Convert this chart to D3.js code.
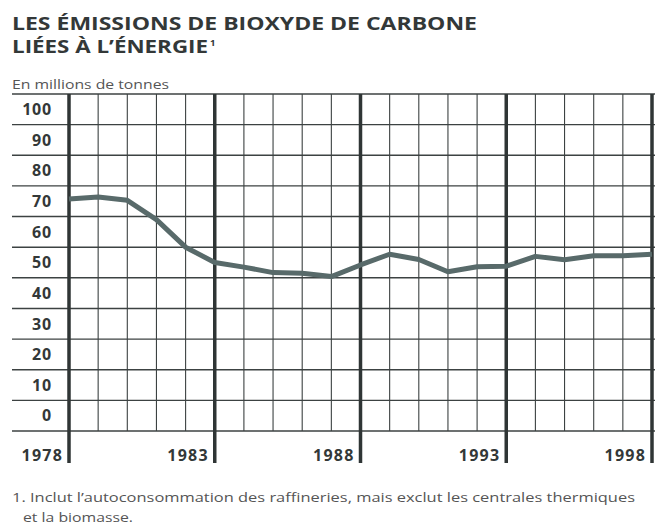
<!DOCTYPE html>
<html>
<head>
<meta charset="utf-8">
<script src="https://cdn.jsdelivr.net/npm/d3@7"></script>
<style>
  html, body { margin: 0; padding: 0; background: #fff; }
  svg { display: block; }
  text { font-family: "Open Sans", "Noto Sans", sans-serif; }
</style>
</head>
<body>
<svg id="chart" width="655" height="531"></svg>
<script>
// ---- Data ----
const years = [1978,1979,1980,1981,1982,1983,1984,1985,1986,1987,1988,1989,1990,1991,1992,1993,1994,1995,1996,1997,1998];
const emissions = [75.7,76.4,75.3,69,60,55,53.5,51.7,51.5,50.4,54.2,57.7,56,52,53.6,53.8,57,55.9,57.2,57.2,57.7];
const yTickValues = [0,10,20,30,40,50,60,70,80,90,100];
const xLabelYears = [1978,1983,1988,1993,1998];
const titleLines = ["LES ÉMISSIONS DE BIOXYDE DE CARBONE", "LIÉES À L’ÉNERGIE"];
const unitLabel = "En millions de tonnes";
const footnoteLines = ["1. Inclut l’autoconsommation des raffineries, mais exclut les centrales thermiques", "et la biomasse."];

// ---- Layout ----
const svg = d3.select("#chart");
const ink = "#333838";
const x = d3.scaleLinear().domain([1978, 1998]).range([69, 652]);
const y = d3.scaleLinear().domain([0, 110]).range([431, 94]);
const gridLeft = 12, gridRight = 655;

// Title
svg.append("text").attr("x", 12).attr("y", 30)
  .attr("font-size", 18.5).attr("font-weight", 700).attr("fill", ink)
  .attr("textLength", 465).attr("lengthAdjust", "spacingAndGlyphs")
  .text(titleLines[0]);
svg.append("text").attr("x", 12).attr("y", 53)
  .attr("font-size", 18.5).attr("font-weight", 700).attr("fill", ink)
  .attr("textLength", 196).attr("lengthAdjust", "spacingAndGlyphs")
  .text(titleLines[1]);
svg.append("text").attr("x", 210).attr("y", 46)
  .attr("font-size", 9.5).attr("font-weight", 700).attr("fill", ink).text("1");

// Unit label
svg.append("text").attr("x", 12).attr("y", 89)
  .attr("font-size", 13).attr("font-weight", 400).attr("fill", "#555")
  .attr("textLength", 157).attr("lengthAdjust", "spacingAndGlyphs")
  .text(unitLabel);

// Horizontal grid
const hVals = d3.range(0, 111, 10);
svg.append("g").selectAll("line").data(hVals).join("line")
  .attr("x1", gridLeft).attr("x2", gridRight)
  .attr("y1", d => y(d)).attr("y2", d => y(d))
  .attr("stroke", "#3c4242").attr("stroke-width", 1.4);

// Vertical grid
svg.append("g").selectAll("line").data(years).join("line")
  .attr("x1", d => x(d)).attr("x2", d => x(d))
  .attr("y1", y(110))
  .attr("y2", d => xLabelYears.includes(d) ? 463 : y(0))
  .attr("stroke", d => xLabelYears.includes(d) ? "#2f3535" : "#3c4242")
  .attr("stroke-width", d => xLabelYears.includes(d) ? 3.5 : 1.1);

// Y labels (centered in band above each value line)
const band = y(0) - y(10);
svg.append("g").selectAll("text").data(yTickValues).join("text")
  .attr("x", 52).attr("y", d => y(d) - band / 2)
  .attr("dy", "0.36em")
  .attr("text-anchor", "end")
  .attr("font-size", 16).attr("font-weight", 700).attr("fill", ink)
  .attr("letter-spacing", 0.8)
  .text(d => d);

// X labels
svg.append("g").selectAll("text").data(xLabelYears).join("text")
  .attr("x", d => x(d) - 6).attr("y", 461)
  .attr("text-anchor", "end")
  .attr("font-size", 16).attr("font-weight", 700).attr("fill", ink)
  .attr("letter-spacing", 1.2)
  .text(d => d);

// Series line
const line = d3.line().x((d, i) => x(years[i])).y(d => y(d));
svg.append("path").datum(emissions)
  .attr("d", line)
  .attr("fill", "none")
  .attr("stroke", "#586a6a")
  .attr("stroke-width", 5)
  .attr("stroke-linejoin", "round")
  .attr("stroke-linecap", "butt");

// Footnote
svg.append("text").attr("x", 12).attr("y", 502)
  .attr("font-size", 13).attr("font-weight", 400).attr("fill", "#555")
  .attr("textLength", 623).attr("lengthAdjust", "spacingAndGlyphs")
  .text(footnoteLines[0]);
svg.append("text").attr("x", 23).attr("y", 522)
  .attr("font-size", 13).attr("font-weight", 400).attr("fill", "#555")
  .attr("textLength", 110).attr("lengthAdjust", "spacingAndGlyphs")
  .text(footnoteLines[1]);
</script>
</body>
</html>
